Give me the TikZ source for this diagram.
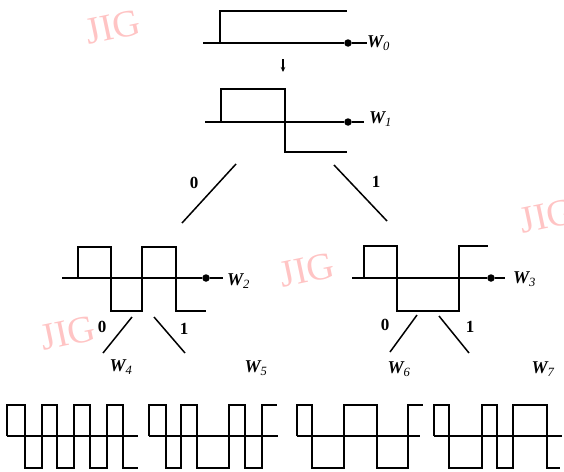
\documentclass[tikz,border=0pt]{standalone}
\usepackage{fontspec}
\setmainfont{Liberation Serif}
\usepackage{xcolor}
\usetikzlibrary{positioning, arrows.meta}
\definecolor{MarkPink}{HTML}{FFC4C4}

\begin{document}
\begin{tikzpicture}[x=1pt, y=-1pt,
    wave/.style={line width=1.7pt, line join=miter},
    tap/.style={circle, fill=black, inner sep=0pt, minimum size=7.5pt},
    wlabel/.style={font=\fontsize{18}{20}\selectfont\bfseries\itshape, inner sep=0pt},
    bit/.style={font=\fontsize{17}{19}\selectfont\bfseries, inner sep=0pt},
    branch/.style={line width=1.5pt},
    watermark/.style={text=MarkPink, rotate=12, font=\fontsize{38}{38}\selectfont, inner sep=0pt}
]
    \useasboundingbox (0,0) rectangle (564,471);
    \clip (0,0) rectangle (564,471);

    % watermarks
    \node[watermark] (jig1) at (113,27) {JIG};
    \node[watermark] (jig2) at (307,270) {JIG};
    \node[watermark] (jig3) at (68,333) {JIG};
    \node[watermark] (jig4) at (547,216) {JIG};

    % W0
    \node[tap] (tap0) at (348,43) {};
    \node[wlabel, anchor=west] (w0) at (367,43) {W$_{\mathit{0}}$};
    \draw[wave] (203,43) -- (tap0) -- (w0.west);
    \draw[wave] (220,43) |- (347,11);

    \coordinate (arrtop) at (283,59);
    \coordinate (arrbot) at (283,72);
    \draw[line width=1.1pt, -{Stealth[length=5pt, width=4.5pt]}] (arrtop) -- (arrbot);

    % W1
    \node[tap] (tap1) at (348,122) {};
    \node[wlabel, anchor=west] (w1) at (369,119) {W$_{\mathit{1}}$};
    \draw[wave] (205,122) -- (tap1) -- ++(16,0);
    \draw[wave] (221,122) |- (285,89) |- (347,152);

    % first split
    \coordinate (s0top) at (236,164);
    \coordinate (s0bot) at (182,223);
    \coordinate (s1top) at (334,165);
    \coordinate (s1bot) at (387,221);
    \draw[branch] (s0top) -- (s0bot);
    \draw[branch] (s1top) -- (s1bot);
    \node[bit] (b0) at (194,183) {0};
    \node[bit] (b1) at (376,182) {1};

    % W2
    \node[tap] (tap2) at (206,278) {};
    \node[wlabel, anchor=west] (w2) at (227,281) {W$_{\mathit{2}}$};
    \draw[wave] (62,278) -- (tap2) -- ++(17,0);
    \draw[wave] (78,278) |- (111,247) |- (142,311) |- (176,247) |- (206,311);

    % W3
    \node[tap] (tap3) at (491,278) {};
    \node[wlabel, anchor=west] (w3) at (513,279) {W$_{\mathit{3}}$};
    \draw[wave] (352,278) -- (tap3) -- ++(14,0);
    \draw[wave] (364,278) |- (397,246) |- (459,311) |- (488,246);

    % second splits
    \coordinate (s2top) at (132,317);
    \coordinate (s2bot) at (103,353);
    \coordinate (s3top) at (154,317);
    \coordinate (s3bot) at (185,353);
    \coordinate (s4top) at (417,315);
    \coordinate (s4bot) at (390,352);
    \coordinate (s5top) at (439,316);
    \coordinate (s5bot) at (469,353);
    \draw[branch] (s2top) -- (s2bot);
    \draw[branch] (s3top) -- (s3bot);
    \draw[branch] (s4top) -- (s4bot);
    \draw[branch] (s5top) -- (s5bot);
    \node[bit] (b2) at (102,327) {0};
    \node[bit] (b3) at (184,329) {1};
    \node[bit] (b4) at (385,325) {0};
    \node[bit] (b5) at (470,327) {1};

    \node[wlabel] (w4) at (121,367) {W$_{\mathit{4}}$};
    \node[wlabel] (w5) at (256,368) {W$_{\mathit{5}}$};
    \node[wlabel] (w6) at (399,369) {W$_{\mathit{6}}$};
    \node[wlabel] (w7) at (543,369) {W$_{\mathit{7}}$};

    % bottom row
    \draw[wave] (7,436) -- (138,436);
    \draw[wave] (7,436) |- (25,405) |- (42,468) |- (57,405) |- (74,468) |- (90,405) |- (107,468) |- (123,405) |- (138,468);

    \draw[wave] (149,436) -- (278,436);
    \draw[wave] (149,436) |- (166,405) |- (181,468) |- (197,405) |- (229,468) |- (245,405) |- (262,468) |- (277,405);

    \draw[wave] (297,436) -- (420,436);
    \draw[wave] (297,436) |- (312,405) |- (344,468) |- (377,405) |- (408,468) |- (423,405);

    \draw[wave] (434,436) -- (562,436);
    \draw[wave] (434,436) |- (449,405) |- (482,468) |- (497,405) |- (513,468) |- (547,405) |- (560,468);
\end{tikzpicture}
\end{document}
